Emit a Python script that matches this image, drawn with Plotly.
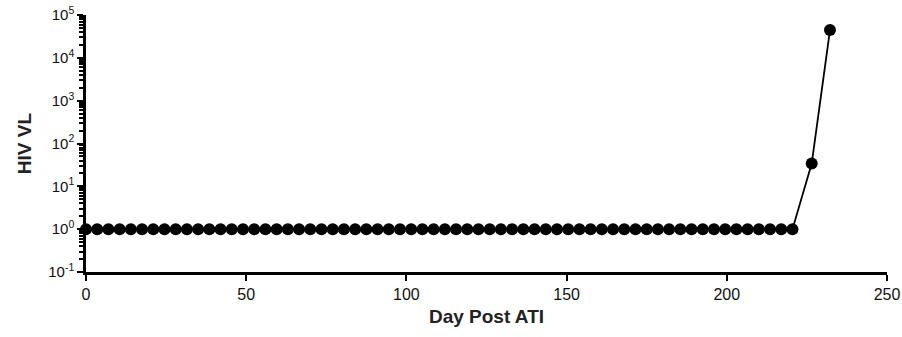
import plotly.graph_objects as go

days = [0, 3.5, 7, 10.5, 14, 17.5, 21, 24.5, 28, 31.5, 35, 38.5, 42, 45.5, 49, 52.5,
        56, 59.5, 63, 66.5, 70, 73.5, 77, 80.5, 84, 87.5, 91, 94.5, 98, 101.5, 105, 108.5,
        112, 115.5, 119, 122.5, 126, 129.5, 133, 136.5, 140, 143.5, 147, 150.5, 154, 157.5,
        161, 164.5, 168, 171.5, 175, 178.5, 182, 185.5, 189, 192.5, 196, 199.5, 203, 206.5,
        210, 213.5, 217, 220.5, 226.5, 232.2]
vl = [1] * 64 + [34, 44500]

ytickvals = [0.1, 1, 10, 100, 1000, 10000, 100000]
yticktext = ["10<sup>-1</sup>", "10<sup>0</sup>", "10<sup>1</sup>", "10<sup>2</sup>",
             "10<sup>3</sup>", "10<sup>4</sup>", "10<sup>5</sup>"]
xtickvals = [0, 50, 100, 150, 200, 250]
minor_vals = [m * 10.0 ** e for e in range(-1, 5) for m in range(2, 10)]

fig = go.Figure()
fig.add_trace(go.Scatter(
    x=days, y=vl, mode="lines+markers",
    line=dict(color="black", width=1.8),
    marker=dict(color="black", size=12),
    showlegend=False, cliponaxis=False,
))

font = "Liberation Sans, Arial, sans-serif"
fig.update_layout(
    width=902, height=337,
    margin=dict(l=86, r=15, t=15, b=65, autoexpand=False),
    plot_bgcolor="white", paper_bgcolor="white",
    font=dict(family=font, color="#111", size=15),
    xaxis=dict(
        range=[0, 250], tickvals=xtickvals, ticks="outside", ticklen=6, tickwidth=2,
        tickcolor="black", showline=True, linecolor="black", linewidth=2.5,
        showgrid=False, zeroline=False, automargin=False,
        title=dict(text="<b>Day Post ATI</b>", font=dict(size=19, family=font, color="#222"), standoff=8),
        tickfont=dict(size=16, family=font, color="#111"),
    ),
    yaxis=dict(
        type="log", range=[-1, 5], tickvals=ytickvals, ticktext=yticktext,
        ticks="outside", ticklen=6, tickwidth=2, tickcolor="black",
        showline=True, linecolor="black", linewidth=2.5,
        showgrid=False, zeroline=False, automargin=False,
        minor=dict(tickmode="array", tickvals=minor_vals, ticks="outside",
                   ticklen=4, tickwidth=1.5, tickcolor="black", showgrid=False),
        title=dict(text="<b>HIV VL</b>", font=dict(size=19, family=font, color="#222"), standoff=12),
        tickfont=dict(size=15, family=font, color="#111"),
    ),
)
fig.write_html("out.html")
